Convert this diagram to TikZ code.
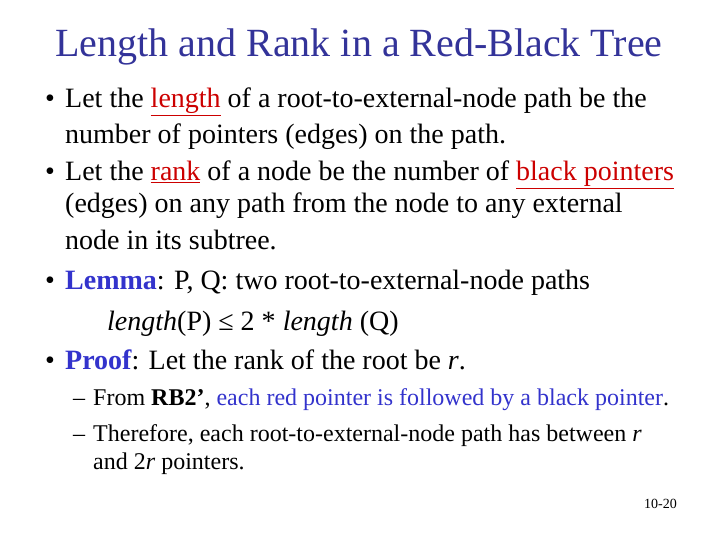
\documentclass[tikz,border=0pt]{standalone}
\usepackage{fontspec}
\setmainfont{Liberation Serif}
\definecolor{ttl}{RGB}{51,51,153}
\definecolor{blu}{RGB}{51,51,204}
\definecolor{rd}{RGB}{204,0,0}
\begin{document}
\begin{tikzpicture}[x=1pt,y=-1pt,
  txt/.style={anchor=base west,inner sep=0pt,font=\fontsize{28}{32}\selectfont},
  sub/.style={anchor=base west,inner sep=0pt,font=\fontsize{24}{28}\selectfont}]
\useasboundingbox (0,0) rectangle (720,540);
\node[anchor=base,inner sep=0pt,text=ttl,font=\fontsize{40}{46}\selectfont] (title) at (359,57) {Length and Rank in a Red-Black Tree};
\node[txt] (b1) at (45,108) {•};
\node[txt] (l1) at (65,108) {Let the {\color{rd}\underline{length}} of a root-to-external-node path be the};
\node[txt] (l2) at (65,144) {number of pointers (edges) on the path.};
\node[txt] (b2) at (45,181) {•};
\node[txt] (l3) at (65,181) {Let the {\color{rd}\underline{rank}} of a node be the number of {\color{rd}\underline{black pointers}}};
\node[txt] (l4) at (65,213) {(edges) on any path from the node to any external};
\node[txt] (l5) at (65,249) {node in its subtree.};
\node[txt] (b3) at (45,289) {•};
\node[txt] (l6) at (65,289) {{\color{blu}\bfseries Lemma}: P, Q: two root-to-external-node paths};
\node[txt] (l7) at (107,330) {\itshape length\upshape(P) ≤ 2 * \itshape length\upshape\ (Q)};
\node[txt] (b4) at (45,369) {•};
\node[txt] (l8) at (65,369) {{\color{blu}\bfseries Proof}: Let the rank of the root be \textit{r}.};
\node[sub] (d1) at (73,405) {–};
\node[sub] (s1) at (93,405) {From \textbf{RB2’}, {\color{blu}each red pointer is followed by a black pointer}.};
\node[sub] (d2) at (73,441) {–};
\node[sub] (s2) at (93,441) {Therefore, each root-to-external-node path has between \textit{r}};
\node[sub] (s3) at (93,469) {and 2\textit{r} pointers.};
\node[anchor=base east,inner sep=0pt,font=\fontsize{14}{16}\selectfont] (pg) at (677,508) {10-20};
\end{tikzpicture}
\end{document}
